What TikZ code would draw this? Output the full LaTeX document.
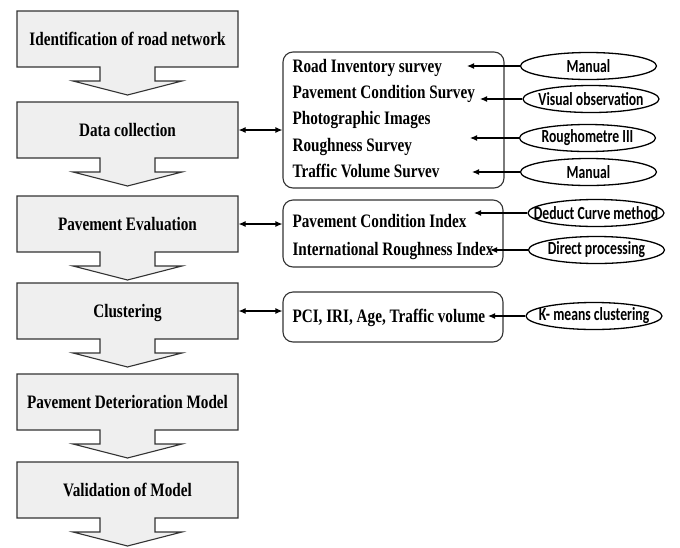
\documentclass[tikz,border=0pt]{standalone}
\usepackage{fontspec}
\usepackage{tikz}
\usetikzlibrary{arrows.meta}
\usetikzlibrary{shapes.geometric}
\newfontfamily\stepfont{Liberation Serif}[FakeStretch=0.8]
\newfontfamily\ovalfont{Carlito}[FakeStretch=0.74]
\definecolor{stepgray}{HTML}{EFEFEF}
\definecolor{linegray}{HTML}{333333}
\tikzset{s/.style={font=\stepfont\bfseries\fontsize{19}{22}\selectfont}}
\tikzset{o/.style={font=\ovalfont\bfseries\fontsize{18.5}{22}\selectfont}}
\tikzset{stepshape/.style={draw=linegray,fill=stepgray,line width=1.1pt}}
\tikzset{steptext/.style={s,minimum width=221pt,minimum height=56pt,inner sep=0pt,text height=13pt,text depth=0pt}}
\tikzset{listbox/.style={draw=linegray,rounded corners=10pt,line width=1.1pt,inner sep=0pt}}
\tikzset{item/.style={s,anchor=base west,inner sep=0pt}}
\tikzset{oval/.style={o,ellipse,draw,line width=1.3pt,minimum width=136pt,minimum height=27pt,inner sep=0pt}}

\begin{document}
\begin{tikzpicture}[x=1pt,y=-1pt,>={Latex[length=7pt,width=6pt]},line width=1.1pt]
  \fill[white] (0,0) rectangle (680,547);
  % steps on the left
  \foreach \name/\y/\txt in {road/11/Identification of road network, data/102/Data collection,
      eval/196/Pavement Evaluation, clus/283/Clustering,
      model/374/Pavement Deterioration Model, valid/462/Validation of Model}{
    \filldraw[stepshape] (17,\y) -- (238,\y) -- (238,\y+56) -- (155,\y+56) -- (155,\y+70)
      -- (182,\y+70) -- (127.5,\y+84) -- (73,\y+70) -- (100,\y+70) -- (100,\y+56)
      -- (17,\y+56) -- cycle;
    \node[steptext] (\name) at (127.5,\y+28) {\txt};
  }
  % boxes on the right
  \node[listbox,minimum width=221pt,minimum height=136pt] (list1) at (393.5,120) {};
  \node[listbox,minimum width=220pt,minimum height=67pt] (list2) at (393,233.5) {};
  \node[listbox,minimum width=220pt,minimum height=50pt] (list3) at (393,317) {};
  \node[item] (invent) at (292,72) {Road Inventory survey};
  \node[item] (pcs) at (292,98) {Pavement Condition Survey};
  \node[item] (photo) at (292,124) {Photographic Images};
  \node[item] (rough) at (292,151) {Roughness Survey};
  \node[item] (traffic) at (292,177) {Traffic Volume Survev};
  \node[item] (pci) at (292,227) {Pavement Condition Index};
  \node[item] (iri) at (292,255) {International Roughness Index};
  \node[item] (vars) at (292,322) {PCI, IRI, Age, Traffic volume};
  \draw[<->] (data.east) -- (data.east -| list1.west);
  \draw[<->] (eval.east) -- (eval.east -| list2.west);
  \draw[<->] (clus.east) -- (clus.east -| list3.west);
  % methods
  \foreach \name/\px/\py/\tx/\txt in {man1/588.5/66/467/Manual, vis/591/99/480/Visual observation,
      rgh/587.5/138/470/Roughometre III, man2/588.5/172/472/Manual,
      deduct/596/213/474/Deduct Curve method, direct/596.5/250/490/Direct processing,
      kmeans/594/316/488/K- means clustering}{
    \node[oval] (\name) at (\px,\py) {\makebox[0pt]{\txt}};
    \coordinate (\name-end) at (\tx,\py);
    \draw[->] (\name) -- (\name-end);
  }
\end{tikzpicture}
\end{document}
